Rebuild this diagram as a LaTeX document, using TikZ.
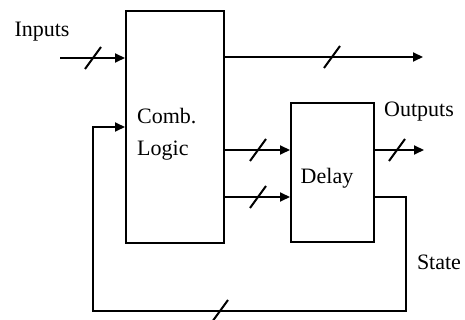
\documentclass[tikz,border=0pt]{standalone}
\usepackage{fontspec}
\setmainfont{Liberation Serif}
\usetikzlibrary{arrows.meta}
\begin{document}
\begin{tikzpicture}[x=1pt,y=-1pt,
  box/.style={draw, line width=2pt, rectangle, inner sep=0pt},
  wire/.style={draw, line width=2pt},
  arr/.style={wire, -{Triangle[length=10pt,width=9pt]}},
  slashline/.style={draw, line width=2pt},
  lbl/.style={font=\fontsize{22}{24}\selectfont, inner sep=0pt}]
\useasboundingbox (0,0) rectangle (465,320);
% boxes
\node[box, minimum width=98pt, minimum height=232pt] (comb) at (175,127) {};
\node[box, minimum width=83pt, minimum height=139pt] (delay) at (332.5,172.5) {};
% labels
\node[lbl, anchor=west] (combt) at (137,116) {Comb.};
\node[lbl, anchor=west] (logict) at (137,151) {Logic};
\node[lbl] (delayt) at (327,178) {Delay};
\node[lbl] (inputs) at (42,32) {Inputs};
\node[lbl] (outputs) at (419,112) {Outputs};
\node[lbl] (state) at (439,262) {State};
% free ends
\coordinate (in) at (60,58);
\coordinate (topout) at (423,57);
\coordinate (out) at (424,150);
\coordinate (fbr) at (406,311);
\coordinate (fbl) at (93,311);
% connectors
\draw[arr] (in) -- (comb.west |- in);
\draw[arr] (comb.east |- topout) -- (topout);
\draw[arr] (comb.east |- 0,150) -- (delay.west |- 0,150);
\draw[arr] (comb.east |- 0,197) -- (delay.west |- 0,197);
\draw[arr] (delay.east |- out) -- (out);
\draw[arr] (delay.east |- 0,197) -| (fbr) -- (fbl) |- (comb.west |- 0,127);
% bus slashes
\foreach \x/\y in {93/58, 332/57, 258/150, 258/197, 397/150, 220/311}
  \draw[slashline] (\x-8,\y+11) -- (\x+8,\y-11);
\end{tikzpicture}
\end{document}
